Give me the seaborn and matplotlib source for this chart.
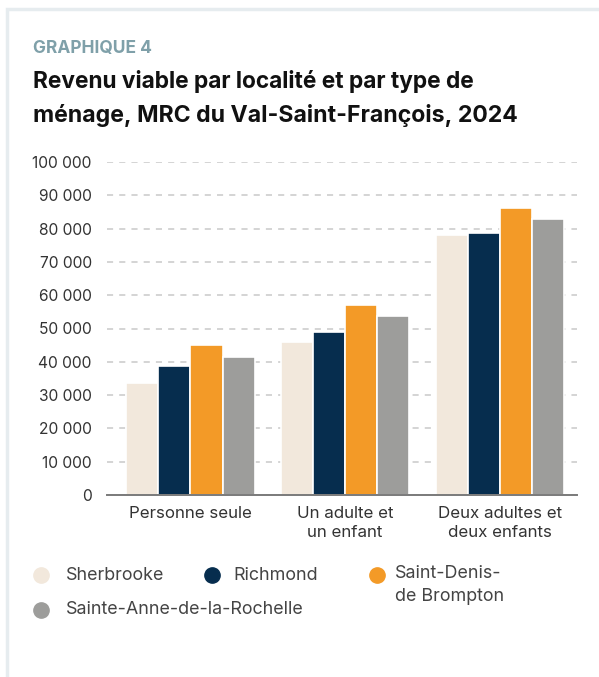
import numpy as np
import pandas as pd
import seaborn as sns
import matplotlib.pyplot as plt
from matplotlib.patches import Rectangle
from matplotlib.lines import Line2D

# data
menages = ['Personne seule', 'Un adulte et\nun enfant', 'Deux adultes et\ndeux enfants']
localites = ['Sherbrooke', 'Richmond', 'Saint-Denis-\nde Brompton', 'Sainte-Anne-de-la-Rochelle']
sherbrooke = [33700, 45800, 78000]
richmond = [38700, 48900, 78600]
saint_denis = [45000, 57000, 86300]
sainte_anne = [41500, 53700, 83000]
couleurs = ['#f2e8dc', '#062d4e', '#f39a27', '#9d9d9b']

df = pd.DataFrame({
    'menage': menages * 4,
    'localite': np.repeat(localites, 3),
    'revenu': sherbrooke + richmond + saint_denis + sainte_anne,
})

sns.set_style('white')
plt.rcParams['font.family'] = ['Inter', 'DejaVu Sans']

fig = plt.figure(figsize=(5.99, 6.77), dpi=100)
ax = fig.add_axes([107 / 599, 1 - 495 / 677, (577 - 107) / 599, (495 - 162) / 677])

sns.barplot(data=df, x='menage', y='revenu', hue='localite', hue_order=localites,
            order=menages, palette=couleurs, saturation=1, width=0.83, edgecolor='white',
            linewidth=1.2, ax=ax, legend=False, zorder=3)

ax.set_xlim(-0.54, 2.5)
ax.set_ylim(0, 100000)
ax.set_yticks(np.arange(0, 100001, 10000))
ax.set_yticklabels([f'{v:,}'.replace(',', ' ') for v in range(0, 100001, 10000)])
ax.yaxis.grid(True, color='#c9c9c9', linestyle=(0, (4, 4)), linewidth=1.1, zorder=0)
ax.set_axisbelow(True)
ax.set_xlabel('')
ax.set_ylabel('')
for s in ['top', 'right', 'left']:
    ax.spines[s].set_visible(False)
ax.spines['bottom'].set_color('#7a7a7a')
ax.spines['bottom'].set_linewidth(1.4)
ax.spines['bottom'].set_zorder(4)
ax.tick_params(axis='both', length=0, labelcolor='#333333')
ax.tick_params(axis='y', pad=11, labelsize=11.2)
ax.tick_params(axis='x', pad=8, labelsize=12.2)
for t in ax.get_xticklabels():
    t.set_linespacing(1.35)

# card frame
fig.patches.append(Rectangle((7 / 599, -0.2), 1.2, 1 - 9 / 677 + 0.2, transform=fig.transFigure,
                             facecolor='none', edgecolor='#e6ecef', linewidth=2.5))

fig.text(33 / 599, 1 - 53 / 677, 'GRAPHIQUE 4', color='#7fa0a9', fontsize=12.5,
         fontweight='bold', va='baseline')
fig.text(33 / 599, 1 - 88 / 677, 'Revenu viable par localité et par type de',
         color='#111111', fontsize=16.3, fontweight='bold', va='baseline')
fig.text(33 / 599, 1 - 122 / 677, 'ménage, MRC du Val-Saint-François, 2024',
         color='#111111', fontsize=16.6, fontweight='bold', va='baseline')

# legend, laid out by hand as in the reference
leg_pos = [(41, 575, 25), (212, 575, 21), (377, 575, 18), (41, 610, 25)]
for (x, y, dx), c, lab in zip(leg_pos, couleurs, localites):
    fig.add_artist(Line2D([x / 599], [1 - y / 677], marker='o', linestyle='', markersize=11,
                          color=c, transform=fig.transFigure))
    if '\n' in lab:
        fig.text((x + dx) / 599, 1 - (y - 10) / 677, lab, color='#444444', fontsize=12.9,
                 va='top', linespacing=1.45)
    else:
        fig.text((x + dx) / 599, 1 - y / 677, lab, color='#444444', fontsize=12.9,
                 va='center')

fig.savefig('out.png', dpi=100)
